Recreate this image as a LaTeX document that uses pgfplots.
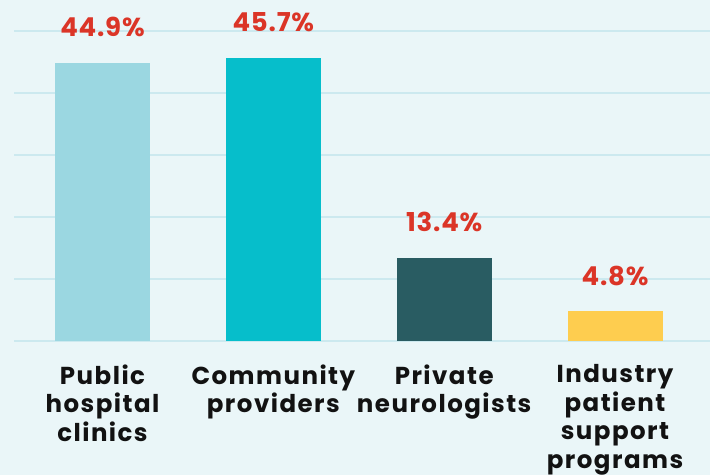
\documentclass[border=0pt]{standalone}
\usepackage{fontspec}
\setmainfont{Poppins}
\newfontfamily\lblfont[LetterSpace=6]{Poppins}
\newfontfamily\valfont[LetterSpace=3]{Poppins}
\usepackage{pgfplots}
\pgfplotsset{compat=1.18}
\definecolor{bgc}{HTML}{EAF6F8}
\definecolor{gridc}{HTML}{CCE9EF}
\definecolor{redc}{HTML}{DB3527}
\definecolor{c1}{HTML}{9BD7E1}
\definecolor{c2}{HTML}{06BECB}
\definecolor{c3}{HTML}{295C62}
\definecolor{c4}{HTML}{FECD4F}
\begin{document}
\begin{tikzpicture}
\fill[bgc] (0,0) rectangle (710bp,475bp);
\begin{axis}[
  at={(14bp,134bp)}, anchor=south west,
  scale only axis, width=696bp, height=341bp,
  xmin=-0.518, xmax=3.556, ymin=0, ymax=55,
  ybar, bar width=95bp, bar shift=0pt,
  axis line style={draw=none}, tick style={draw=none},
  ytick={0,10,20,30,40,50}, yticklabels={},
  ymajorgrids, grid style={color=gridc, line width=2bp},
  xtick={0,1,2,3},
  xticklabels={{Public\\hospital\\clinics},{Community\\providers},{Private\\neurologists},{Industry\\patient\\support\\programs}},
  xticklabel style={anchor=north, inner sep=0pt, align=center, yshift=-19bp,
    font=\lblfont\fontsize{24.5bp}{28.5bp}\selectfont\bfseries, text=black!93},
  clip=false,
  point meta=explicit symbolic,
  nodes near coords,
  every node near coord/.append style={anchor=base, yshift=26bp, inner sep=0pt,
    font=\valfont\fontsize{26bp}{30bp}\selectfont\bfseries, text=redc},
]
\addplot[fill=c1, draw=none] coordinates {(0,44.9) [44.9\%]};
\addplot[fill=c2, draw=none] coordinates {(1,45.7) [45.7\%]};
\addplot[fill=c3, draw=none] coordinates {(2,13.4) [13.4\%]};
\addplot[fill=c4, draw=none] coordinates {(3,4.8) [4.8\%]};
\end{axis}
\pgfresetboundingbox
\useasboundingbox (0,0) rectangle (710bp,475bp);
\end{tikzpicture}
\end{document}
